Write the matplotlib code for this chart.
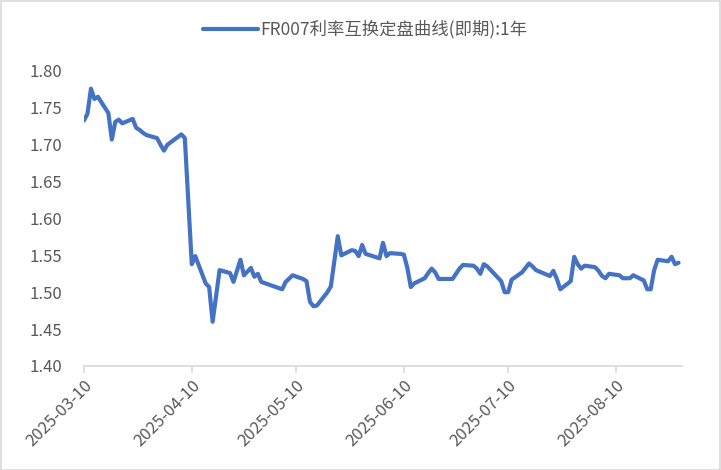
import matplotlib
matplotlib.use("Agg")
import matplotlib.pyplot as plt
import pandas as pd

plt.rcParams['font.family'] = ['Noto Sans CJK SC', 'DejaVu Sans']

# FR007 1y swap fixing
dates = [
    "2025-03-10", "2025-03-11", "2025-03-12", "2025-03-13", "2025-03-14",
    "2025-03-17", "2025-03-18", "2025-03-19", "2025-03-20", "2025-03-21",
    "2025-03-24", "2025-03-25", "2025-03-26", "2025-03-27", "2025-03-28",
    "2025-03-31", "2025-04-01", "2025-04-02", "2025-04-03", "2025-04-07",
    "2025-04-08", "2025-04-10", "2025-04-11", "2025-04-14", "2025-04-15",
    "2025-04-16", "2025-04-18", "2025-04-21", "2025-04-22", "2025-04-24",
    "2025-04-25", "2025-04-27", "2025-04-28", "2025-04-29", "2025-04-30",
    "2025-05-06", "2025-05-07", "2025-05-09", "2025-05-12", "2025-05-13",
    "2025-05-14", "2025-05-15", "2025-05-16", "2025-05-19", "2025-05-20",
    "2025-05-22", "2025-05-23", "2025-05-26", "2025-05-27", "2025-05-28",
    "2025-05-29", "2025-05-30", "2025-06-03", "2025-06-04", "2025-06-05",
    "2025-06-06", "2025-06-09", "2025-06-10", "2025-06-11", "2025-06-12",
    "2025-06-13", "2025-06-16", "2025-06-17", "2025-06-18", "2025-06-19",
    "2025-06-20", "2025-06-23", "2025-06-24", "2025-06-25", "2025-06-26",
    "2025-06-27", "2025-06-30", "2025-07-01", "2025-07-02", "2025-07-03",
    "2025-07-04", "2025-07-07", "2025-07-08", "2025-07-09", "2025-07-10",
    "2025-07-11", "2025-07-14", "2025-07-15", "2025-07-16", "2025-07-17",
    "2025-07-18", "2025-07-21", "2025-07-22", "2025-07-23", "2025-07-24",
    "2025-07-25", "2025-07-28", "2025-07-29", "2025-07-30", "2025-07-31",
    "2025-08-01", "2025-08-04", "2025-08-05", "2025-08-06", "2025-08-07",
    "2025-08-08", "2025-08-11", "2025-08-12", "2025-08-13", "2025-08-14",
    "2025-08-15", "2025-08-18", "2025-08-19", "2025-08-20", "2025-08-21",
    "2025-08-22", "2025-08-25", "2025-08-26", "2025-08-27", "2025-08-28",
]
rates = [
    1.733, 1.742, 1.776, 1.762, 1.765,
    1.743, 1.707, 1.731, 1.734, 1.729,
    1.735, 1.723, 1.720, 1.716, 1.713,
    1.709, 1.700, 1.692, 1.700, 1.714,
    1.709, 1.538, 1.549, 1.512, 1.507,
    1.460, 1.530, 1.526, 1.514, 1.544,
    1.523, 1.533, 1.521, 1.525, 1.514,
    1.504, 1.514, 1.523, 1.518, 1.515,
    1.487, 1.481, 1.482, 1.500, 1.508,
    1.576, 1.550, 1.557, 1.556, 1.549,
    1.564, 1.552, 1.546, 1.567, 1.549,
    1.553, 1.552, 1.551, 1.533, 1.507,
    1.512, 1.519, 1.526, 1.532, 1.527,
    1.518, 1.518, 1.518, 1.525, 1.532,
    1.537, 1.536, 1.532, 1.525, 1.538,
    1.535, 1.520, 1.515, 1.500, 1.500,
    1.517, 1.527, 1.533, 1.539, 1.535,
    1.530, 1.524, 1.522, 1.529, 1.518,
    1.504, 1.515, 1.548, 1.538, 1.532,
    1.536, 1.534, 1.529, 1.522, 1.519,
    1.525, 1.523, 1.519, 1.519, 1.519,
    1.523, 1.516, 1.504, 1.504, 1.530,
    1.544, 1.542, 1.548, 1.538, 1.540,
]
tick_dates = ["2025-03-10", "2025-04-10", "2025-05-10",
              "2025-06-10", "2025-07-10", "2025-08-10"]
y_ticks = [1.40, 1.45, 1.50, 1.55, 1.60, 1.65, 1.70, 1.75, 1.80]
series_name = "FR007利率互换定盘曲线(即期):1年"

x = pd.to_datetime(dates)
xt = pd.to_datetime(tick_dates)

fig = plt.figure(figsize=(7.21, 4.70), dpi=100)
ax = fig.add_axes([0.1165, 0.2213, 0.8294, 0.6277])

ax.plot(x, rates, color='#4472C4', linewidth=3.0, solid_joinstyle='round',
        solid_capstyle='round', label=series_name)

ax.set_ylim(1.40, 1.80)
ax.set_yticks(y_ticks)
ax.set_yticklabels([f"{v:.2f}" for v in y_ticks])
ax.set_xlim(pd.Timestamp("2025-03-10"), pd.Timestamp("2025-08-29"))
ax.set_xticks(xt)
ax.set_xticklabels(tick_dates, rotation=45, ha='right', rotation_mode='anchor')

for s in ['top', 'right', 'left']:
    ax.spines[s].set_visible(False)
ax.spines['bottom'].set_color('#d9d9d9')
ax.spines['bottom'].set_linewidth(1.2)
ax.tick_params(axis='y', length=0, labelsize=12, labelcolor='#595959', pad=16)
ax.tick_params(axis='x', length=5, width=1.2, color='#d9d9d9',
               labelsize=12, labelcolor='#595959', pad=3)

leg = fig.legend(loc='upper center', bbox_to_anchor=(0.506, 0.99), frameon=False,
                 fontsize=12.5, handlelength=3.2, handletextpad=0.1)
for t in leg.get_texts():
    t.set_color('#595959')

# light border around the whole chart
fig.patches.append(plt.Rectangle((0.001, 0.001), 0.998, 0.997, transform=fig.transFigure,
                                 fill=False, edgecolor='#d9d9d9', linewidth=1.2))

fig.savefig("out.png", dpi=100)
